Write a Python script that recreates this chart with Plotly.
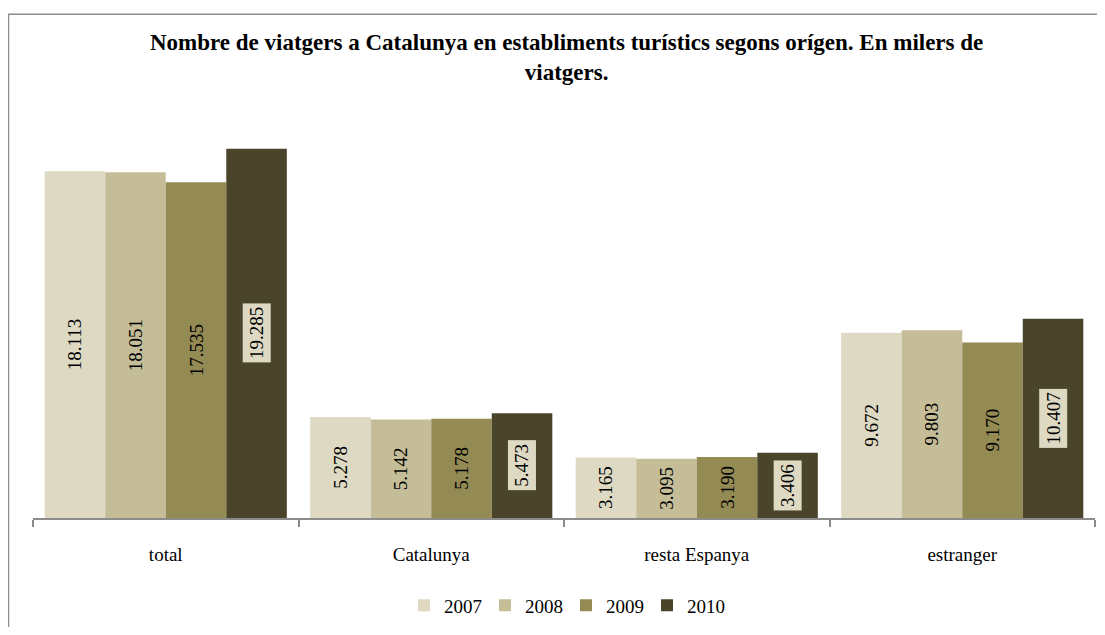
import plotly.graph_objects as go

categories = ["total", "Catalunya", "resta Espanya", "estranger"]
years = ["2007", "2008", "2009", "2010"]
v2007 = [18113, 5278, 3165, 9672]
v2008 = [18051, 5142, 3095, 9803]
v2009 = [17535, 5178, 3190, 9170]
v2010 = [19285, 5473, 3406, 10407]
series = [v2007, v2008, v2009, v2010]
colors = ["#DDD9C3", "#C4BD97", "#948A54", "#4A452A"]

title_text = ("Nombre de viatgers a Catalunya en establiments turístics segons orígen. En milers de"
              "<br>viatgers.")

FONT = "Liberation Serif, Times New Roman, serif"
# page body has an 8px default margin, so the figure is sized to fit the window exactly
OFF = 8
W, H = 1105 - 2 * OFF, 635 - 2 * OFF
ML, MR, MT, MB = 25, 2, 127, 102
BARGAP = 0.088
Y_MAX = 20000

def fmt(v):
    return f"{v:,}".replace(",", ".")

fig = go.Figure()
for i, (yr, vals, col) in enumerate(zip(years, series, colors)):
    is_last = i == len(years) - 1
    fig.add_trace(go.Bar(
        name=yr, x=categories, y=vals,
        marker=dict(color=col, line=dict(width=0)),
        text=None if is_last else [fmt(v) for v in vals],
        textposition="inside", insidetextanchor="middle", textangle=-90,
        textfont=dict(family=FONT, size=19, color="#000000"),
        constraintext="none",
        hoverinfo="skip",
    ))

# 2010 labels with a light box, placed via category index scale
n = len(years)
offset = (1 - BARGAP) / n * ((n - 1) / 2)
for ci, v in enumerate(v2010):
    fig.add_annotation(
        x=ci + offset, y=v / 2, xref="x", yref="y",
        text=fmt(v), textangle=-90, showarrow=False,
        font=dict(family=FONT, size=19, color="#000000"),
        bgcolor="#DDD9C3", borderpad=3,
    )

plot_w = W - ML - MR
plot_h = H - MT - MB

def px_x(x):
    return (x - OFF - ML) / plot_w

def px_y(y):
    return (H - MB - (y - OFF)) / plot_h

# title (two lines, centred around reference row ~56)
fig.add_annotation(
    x=px_x(566), y=px_y(56), xref="paper", yref="paper",
    xanchor="center", yanchor="middle", showarrow=False, text=title_text,
    font=dict(family=FONT, size=23, color="#000000", weight="bold"),
)

# outer frame (chart area border)
fig.add_shape(
    type="rect", xref="paper", yref="paper",
    x0=px_x(8.5), x1=px_x(1160), y0=px_y(700), y1=px_y(12),
    line=dict(color="#8C8C8C", width=1.5), fillcolor="rgba(0,0,0,0)", layer="below",
)

fig.update_layout(
    width=W, height=H,
    margin=dict(l=ML, r=MR, t=MT, b=MB),
    paper_bgcolor="white", plot_bgcolor="white",
    separators=",.",
    barmode="group", bargap=BARGAP, bargroupgap=0,
    font=dict(family=FONT, size=19, color="#000000"),
    showlegend=True,
    legend=dict(
        orientation="h", x=px_x(566), xanchor="center",
        y=px_y(614), yanchor="middle",
        font=dict(family=FONT, size=19, color="#000000"),
        itemwidth=30, tracegroupgap=0, entrywidth=36,
    ),
    xaxis=dict(
        type="category", showgrid=False, showline=True, linecolor="#8C8C8C", linewidth=1.5,
        ticks="outside", tickson="boundaries", ticklen=7, tickcolor="#8C8C8C", tickwidth=1.5,
        tickfont=dict(family=FONT, size=19, color="#000000"), ticklabelstandoff=18,
        fixedrange=True,
    ),
    yaxis=dict(
        range=[0, Y_MAX], visible=False, showgrid=False, zeroline=False, fixedrange=True,
    ),
)

fig.write_html("out.html")
